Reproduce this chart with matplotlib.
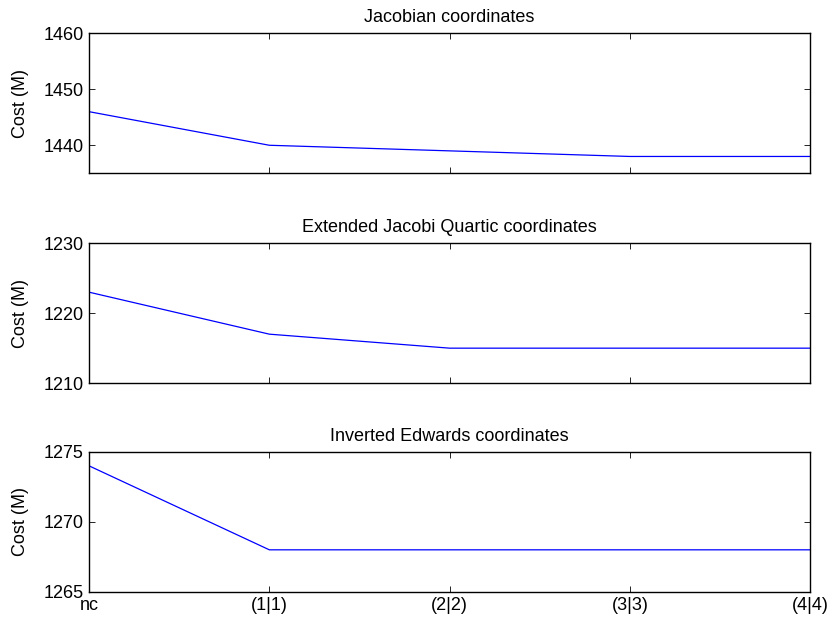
import matplotlib
matplotlib.use("Agg")
import matplotlib.pyplot as plt

plt.rcParams['font.family'] = ['Liberation Sans', 'DejaVu Sans']
plt.rcParams['font.size'] = 13

xlabels = ['nc', '(1|1)', '(2|2)', '(3|3)', '(4|4)']
titles = ['Jacobian coordinates', 'Extended Jacobi Quartic coordinates',
          'Inverted Edwards coordinates']
jacobian = [1446, 1440, 1439, 1438, 1438]
ejq = [1223, 1217, 1215, 1215, 1215]
inv_edwards = [1274, 1268, 1268, 1268, 1268]
series = [jacobian, ejq, inv_edwards]
ylims = [(1435, 1460), (1210, 1230), (1265, 1275)]
yticks = [[1440, 1450, 1460], [1210, 1220, 1230], [1265, 1270, 1275]]

fig = plt.figure(figsize=(8.29, 6.21), dpi=100)
bottoms = [0.721, 0.383, 0.047]
x = list(range(len(xlabels)))
for i in range(3):
    ax = fig.add_axes([0.1074, bottoms[i], 0.870, 0.2254])
    ax.plot(x, series[i], color='blue', lw=0.9)
    ax.set_xlim(0, 4)
    ax.set_ylim(*ylims[i])
    ax.set_yticks(yticks[i])
    ax.set_xticks(x)
    if i == 2:
        ax.set_xticklabels(xlabels)
    else:
        ax.set_xticklabels([])
    ax.tick_params(direction='in', top=True, right=True, length=4, width=0.6, pad=4)
    for s in ax.spines.values():
        s.set_linewidth(1.0)
    ax.set_ylabel('Cost (M)', labelpad=10)
    ax.set_title(titles[i], fontsize=13, pad=8)

fig.savefig('out.png', dpi=100)
